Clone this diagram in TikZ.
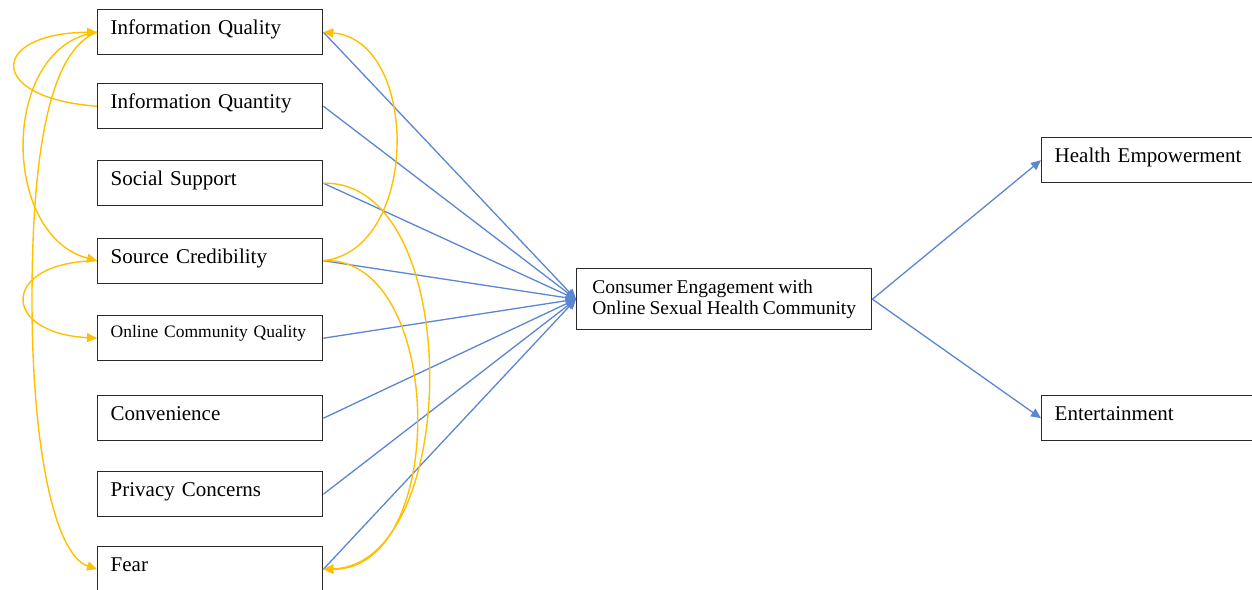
\documentclass[tikz,border=0pt]{standalone}
\usepackage{fontspec}
\setmainfont[WordSpace=0.85]{Liberation Serif}
\usetikzlibrary{arrows.meta}
\definecolor{blu}{HTML}{5A86D4}
\definecolor{ylw}{HTML}{FFC000}
\definecolor{bord}{HTML}{2A2A2A}
\begin{document}
\begin{tikzpicture}[x=1pt,y=-1pt,
  box/.style={draw=bord, line width=1.4pt, rectangle, anchor=north west,
    inner xsep=13pt, inner ysep=0pt, text width=199pt, align=left,
    text height=25pt, text depth=20pt, font=\fontsize{21}{25}\selectfont},
  smallbox/.style={box, text height=22pt, text depth=23pt, font=\fontsize{17.5}{21}\selectfont},
  bigbox/.style={draw=bord, line width=1.4pt, rectangle, anchor=north west,
    inner xsep=11pt, inner ysep=0pt, minimum width=295pt, minimum height=61pt, align=left,
    font=\fontsize{19.5}{21.5}\selectfont},
  blink/.style={draw=blu, line width=1.3pt, -{Triangle[length=10pt,width=9pt]}},
  ylink/.style={draw=ylw, line width=1.4pt, -{Triangle[length=10pt,width=9pt]}}
]
\useasboundingbox (0,0) rectangle (1252,589);
\clip (0,0) rectangle (1252,589);

\node[box] (iq) at (97,9) {Information Quality};
\node[box] (qn) at (97,83) {Information Quantity};
\node[box] (ss) at (97,160) {Social Support};
\node[box] (sc) at (97,237.5) {Source Credibility};
\node[smallbox] (ocq) at (97,315) {Online Community Quality};
\node[box] (cv) at (97,395) {Convenience};
\node[box] (pc) at (97,471) {Privacy Concerns};
\node[box] (fe) at (97,546) {Fear};

\node[bigbox] (ce) at (576,268) {Consumer Engagement with\\Online Sexual Health Community};

\node[box] (he) at (1041,137) {Health Empowerment};
\node[box] (en) at (1041,395) {Entertainment};

% blue paths
\foreach \n in {iq,qn,ss,sc,ocq,cv,pc,fe}
  \draw[blink] (\n.east) -- (ce.west);
\draw[blink] (ce.east) -- (he.west);
\draw[blink] (ce.east) -- (en.west);

% yellow correlations (left side)
\draw[ylink] (qn.west) .. controls (-15,98) and (-10,33) .. (iq.west);
\draw[ylink] (iq.west) .. controls (0,45) and (0,235) .. (sc.west);
\draw[ylink] (iq.west) .. controls (50,50) and (32,150) .. (32,300)
  .. controls (32,450) and (55,555) .. (fe.west);
\draw[ylink] (sc.west) .. controls (0,262) and (0,333) .. (ocq.west);

% yellow correlations (right side)
\draw[ylink] (sc.east) .. controls (420,250) and (420,40) .. (iq.east);
\draw[ylink] (ss.east) .. controls (465,180) and (462,565) .. (fe.east);
\draw[ylink] (sc.east) .. controls (445,255) and (450,570) .. (fe.east);
\end{tikzpicture}
\end{document}
